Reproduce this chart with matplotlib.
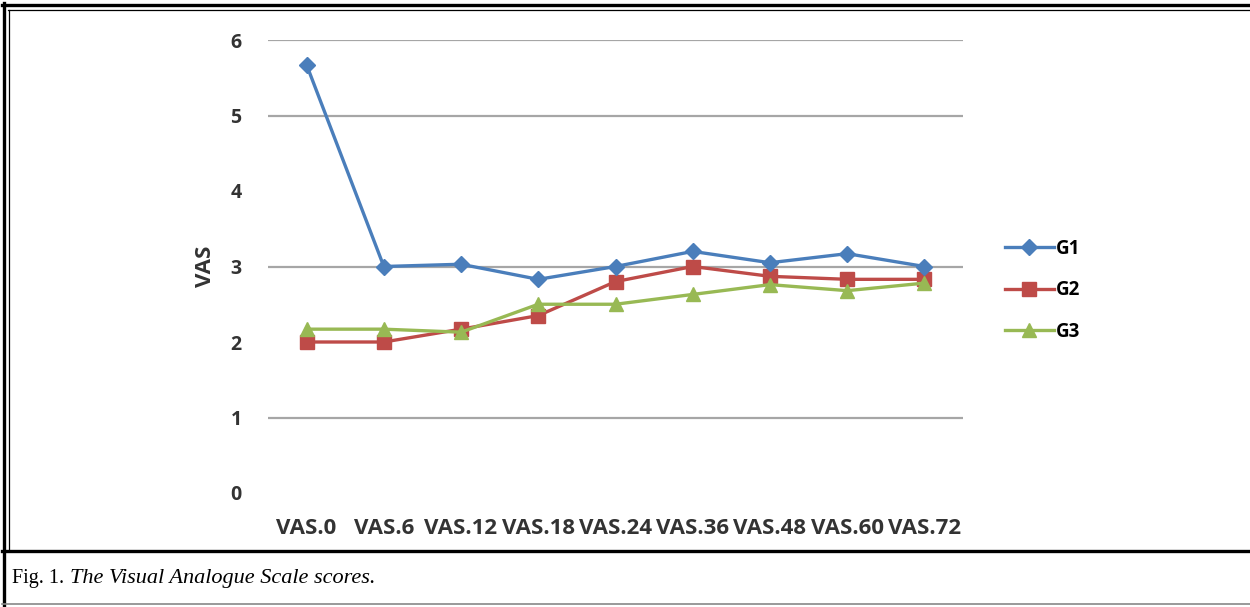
import matplotlib.pyplot as plt
from matplotlib.lines import Line2D

# data
categories = ["VAS.0", "VAS.6", "VAS.12", "VAS.18", "VAS.24",
              "VAS.36", "VAS.48", "VAS.60", "VAS.72"]
g1 = [5.67, 3.00, 3.03, 2.83, 3.00, 3.20, 3.05, 3.17, 3.00]
g2 = [2.00, 2.00, 2.17, 2.35, 2.80, 3.00, 2.87, 2.83, 2.83]
g3 = [2.17, 2.17, 2.13, 2.50, 2.50, 2.63, 2.76, 2.68, 2.78]
y_ticks = [0, 1, 2, 3, 4, 5, 6]
grid_levels = [1, 3, 5, 6]  # the 2 and 4 gridlines are washed out in the scan

W, H = 1250, 607
fig = plt.figure(figsize=(W / 100, H / 100), dpi=100)
fig.patch.set_facecolor("white")


def fx(px):
    return px / W


def fy(py):
    return 1 - py / H


ax = fig.add_axes([fx(268), fy(493), fx(963) - fx(268), fy(40) - fy(493)])
x = list(range(len(categories)))

for lvl in grid_levels:
    ax.axhline(lvl, color="#a6a6a6", lw=1.6, zorder=0)

ax.plot(x, g1, color="#4a7ebb", lw=2.4, marker="D", ms=8.5, label="G1", zorder=4)
ax.plot(x, g2, color="#be4b48", lw=2.4, marker="s", ms=10, label="G2", zorder=3)
ax.plot(x, g3, color="#98b954", lw=2.4, marker="^", ms=10.5, label="G3", zorder=3)

ax.set_xlim(-0.5, len(categories) - 0.5)
ax.set_ylim(0, 6)
ax.set_yticks(y_ticks)
ax.set_xticks(x)
ax.set_xticklabels(categories)
for s in ax.spines.values():
    s.set_visible(False)
ax.tick_params(length=0)
ax.tick_params(axis="y", pad=19, labelsize=14)
ax.tick_params(axis="x", pad=18, labelsize=16)
for lab in ax.get_xticklabels() + ax.get_yticklabels():
    lab.set_fontweight("bold")
    lab.set_family("Open Sans")
    lab.set_color("#333333")
ax.set_ylabel("VAS", fontsize=16, fontweight="bold", family="Open Sans",
              color="#333333", labelpad=10)

ax.legend(loc="upper left", bbox_to_anchor=(fx(988), fy(222)),
          bbox_transform=fig.transFigure, frameon=False, handlelength=2.6,
          handletextpad=0.1, labelspacing=1.15,
          prop={"family": "Open Sans", "weight": "bold", "size": 13.5})

# page frame lines
def hline(py, x0, x1, lw, color="black"):
    fig.add_artist(Line2D([fx(x0), fx(x1)], [fy(py), fy(py)], lw=lw, color=color,
                          transform=fig.transFigure))


def vline(px, y0, y1, lw, color="black"):
    fig.add_artist(Line2D([fx(px), fx(px)], [fy(y0), fy(y1)], lw=lw, color=color,
                          transform=fig.transFigure))


hline(5, 2, W, 2.4)
hline(10, 8, W, 0.9)
vline(4, 3, H, 2.4)
vline(9, 10, 551, 0.9)
hline(551, 2, W, 2.4)
hline(604, 2, W, 1.2, "#888888")

fig.text(fx(12), fy(578), "Fig. 1.", family="Liberation Serif", fontsize=14.5,
         va="center", ha="left")
fig.text(fx(70), fy(578), "The Visual Analogue Scale scores.",
         family="Liberation Serif", style="italic", fontsize=16,
         va="center", ha="left")

fig.savefig("out.png", dpi=100)
